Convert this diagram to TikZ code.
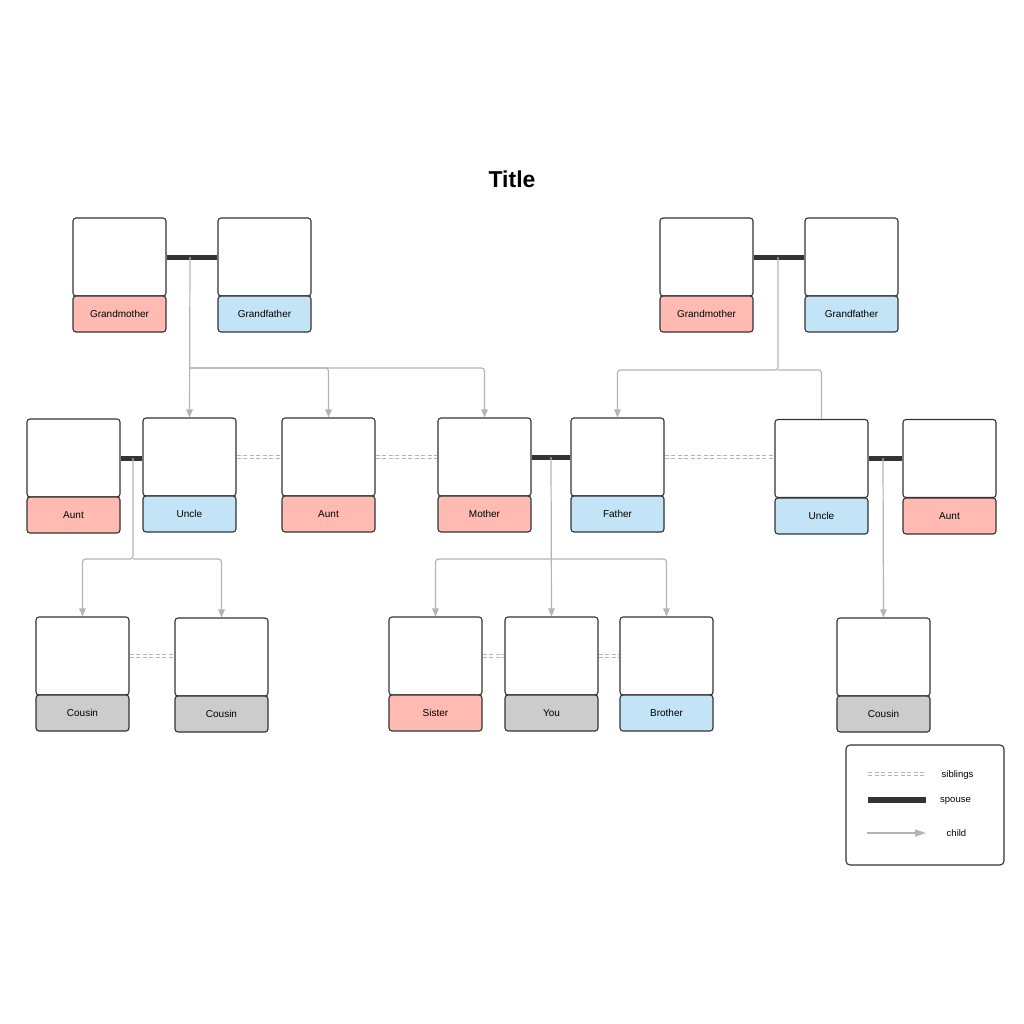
\documentclass[tikz,border=0pt]{standalone}
\usepackage{fontspec}
\setmainfont{Liberation Sans}
\usetikzlibrary{arrows.meta,calc}
\definecolor{pinkc}{RGB}{255,187,177}
\definecolor{bluec}{RGB}{194,228,246}
\definecolor{grayc}{RGB}{204,204,204}
\definecolor{edgec}{RGB}{51,51,51}
\definecolor{linec}{RGB}{180,180,180}
\begin{document}
\begin{tikzpicture}[x=1pt,y=-1pt,
  photo/.style={draw=edgec,line width=1.1pt,fill=white,rounded corners=3pt,minimum width=93pt,minimum height=78pt,inner sep=0pt},
  lab/.style={draw=edgec,line width=1.1pt,rounded corners=3pt,minimum width=93pt,minimum height=36pt,inner sep=0pt,font=\fontsize{10}{12}\selectfont},
  spouse/.style={draw=edgec,line width=5pt},
  child/.style={draw=linec,line width=1.2pt,rounded corners=3pt,-{Triangle[length=8pt,width=6.5pt]}},
  childplain/.style={draw=linec,line width=1.2pt,rounded corners=3pt},
  sib/.style={draw=none,
    preaction={draw=linec,line width=0.8pt,dash pattern=on 4pt off 2.5pt,transform canvas={yshift=1.3pt}},
    postaction={draw=linec,line width=0.8pt,dash pattern=on 4pt off 2.5pt,transform canvas={yshift=-1.3pt}}},
  legtext/.style={font=\fontsize{9.5}{11}\selectfont,inner sep=0pt}
]
\useasboundingbox (0,0) rectangle (1024,1024);
\fill[white] (0,0) rectangle (1024,1024);

\node[font=\fontsize{23}{26}\selectfont\bfseries] (title) at (512,179) {Title};

\coordinate (c1) at (190,257);
\coordinate (b1) at (190,368);
\coordinate (c2) at (778,257);
\coordinate (b2) at (778,370);
\coordinate (c3) at (133,458);
\coordinate (b3) at (133,559);
\coordinate (c4) at (551,457);
\coordinate (b4) at (551,559);
\coordinate (c5) at (883,458);

% ---- generation 1 ----
\node[photo] (gm1) at (119.5,257) {};
\node[lab,fill=pinkc] (gm1l) at (119.5,314) {Grandmother};
\node[photo] (gf1) at (264.5,257) {};
\node[lab,fill=bluec] (gf1l) at (264.5,314) {Grandfather};
\node[photo] (gm2) at (706.5,257) {};
\node[lab,fill=pinkc] (gm2l) at (706.5,314) {Grandmother};
\node[photo] (gf2) at (851.5,257) {};
\node[lab,fill=bluec] (gf2l) at (851.5,314) {Grandfather};

% ---- generation 2 ----
\node[photo] (aunt1) at (73.5,458) {};
\node[lab,fill=pinkc] (aunt1l) at (73.5,515) {Aunt};
\node[photo] (uncle1) at (189.5,457) {};
\node[lab,fill=bluec] (uncle1l) at (189.5,514) {Uncle};
\node[photo] (aunt2) at (328.5,457) {};
\node[lab,fill=pinkc] (aunt2l) at (328.5,514) {Aunt};
\node[photo] (mother) at (484.5,457) {};
\node[lab,fill=pinkc] (motherl) at (484.5,514) {Mother};
\node[photo] (father) at (617.5,457) {};
\node[lab,fill=bluec] (fatherl) at (617.5,514) {Father};
\node[photo] (uncle2) at (821.5,458.5) {};
\node[lab,fill=bluec] (uncle2l) at (821.5,516) {Uncle};
\node[photo] (aunt3) at (949.5,458.5) {};
\node[lab,fill=pinkc] (aunt3l) at (949.5,516) {Aunt};

% ---- generation 3 ----
\node[photo] (cousin1) at (82.5,656) {};
\node[lab,fill=grayc] (cousin1l) at (82.5,713) {Cousin};
\node[photo] (cousin2) at (221.5,657) {};
\node[lab,fill=grayc] (cousin2l) at (221.5,714) {Cousin};
\node[photo] (sister) at (435.5,656) {};
\node[lab,fill=pinkc] (sisterl) at (435.5,713) {Sister};
\node[photo] (you) at (551.5,656) {};
\node[lab,fill=grayc] (youl) at (551.5,713) {You};
\node[photo] (brother) at (666.5,656) {};
\node[lab,fill=bluec] (brotherl) at (666.5,713) {Brother};
\node[photo] (cousin3) at (883.5,657) {};
\node[lab,fill=grayc] (cousin3l) at (883.5,714) {Cousin};

% ---- spouse lines ----
\draw[spouse] (gm1.east) -- (gf1.west);
\draw[spouse] (gm2.east) -- (gf2.west);
\draw[spouse] (aunt1.east) -- (aunt1.east -| uncle1.west);
\draw[spouse] (mother.east) -- (father.west);
\draw[spouse] (uncle2.east) -- (aunt3.west);

% ---- child lines ----
\draw[child] (c1) -- (uncle1.north);
\draw[child] (b1) -| (aunt2.north);
\draw[child] (b1) -| (mother.north);
\draw[child] (c2) -- (b2) -| (father.north);
\draw[childplain] (b2) -| (uncle2.north);
\draw[child] (c3) -- (b3) -| (cousin1.north);
\draw[child] (b3) -| (cousin2.north);
\draw[child] (c4) -- (you.north);
\draw[child] (b4) -| (sister.north);
\draw[child] (b4) -| (brother.north);
\draw[child] (c5) -- (cousin3.north);

% ---- sibling lines ----
\path[sib] (uncle1.east) -- (aunt2.west);
\path[sib] (aunt2.east) -- (mother.west);
\path[sib] (father.east) -- (father.east -| uncle2.west);
\path[sib] (cousin1.east) -- (cousin1.east -| cousin2.west);
\path[sib] (sister.east) -- (you.west);
\path[sib] (you.east) -- (brother.west);

% ---- legend ----
\node[draw=edgec,line width=1.1pt,rounded corners=4pt,minimum width=158pt,minimum height=120pt,inner sep=0pt] (legend) at (925,805) {};
\coordinate (ls1) at (868,774);
\coordinate (le1) at (926,774);
\coordinate (ls2) at (868,800);
\coordinate (le2) at (926,800);
\coordinate (ls3) at (867,833);
\coordinate (le3) at (926,833);
\path[sib] (ls1) -- (le1);
\draw[spouse,line width=6pt] (ls2) -- (le2);
\draw[draw=linec,line width=1.2pt,-{Triangle[length=11pt,width=7pt]}] (ls3) -- (le3);
\node[legtext] (lt1) at (957.5,775) {siblings};
\node[legtext] (lt2) at (955.5,801) {spouse};
\node[legtext] (lt3) at (956.5,833) {child};
\end{tikzpicture}
\end{document}
